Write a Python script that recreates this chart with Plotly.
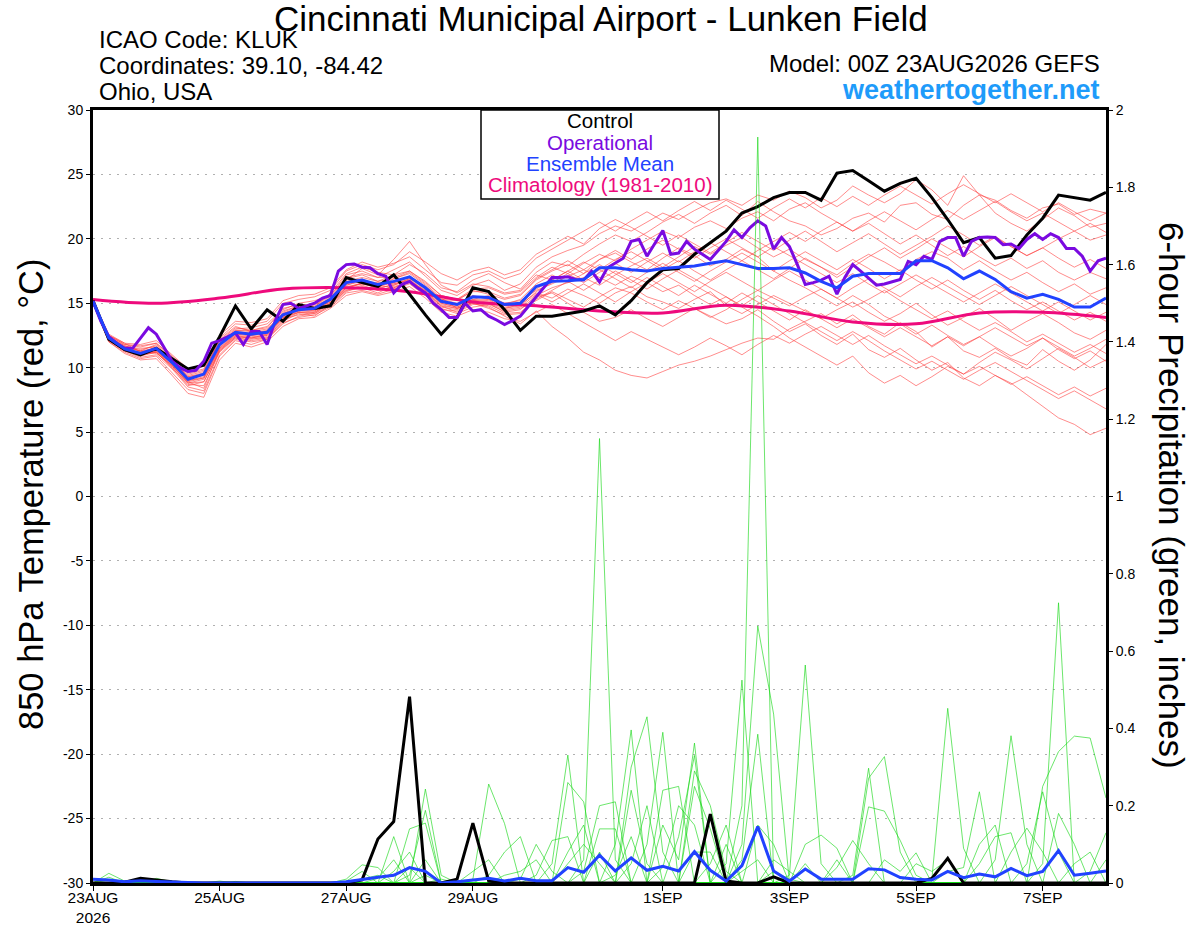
import pandas as pd
import plotly.graph_objects as go

# ---- time axes ----
start = "2026-08-23 00:00"
times_6h = pd.date_range(start, periods=65, freq="6h")      # ensemble / control steps
times_3h = pd.date_range(start, periods=129, freq="3h")     # operational run steps
times_clim = pd.date_range(start, periods=17, freq="24h")   # climatology, daily

tick_dates = ["2026-08-23", "2026-08-25", "2026-08-27", "2026-08-29",
              "2026-09-01", "2026-09-03", "2026-09-05", "2026-09-07"]
tick_labels = ["23AUG<br>2026", "25AUG", "27AUG", "29AUG",
               "1SEP", "3SEP", "5SEP", "7SEP"]
temp_ticks = [-30, -25, -20, -15, -10, -5, 0, 5, 10, 15, 20, 25, 30]
temp_tick_labels = ["-30", "-25", "-20", "-15", "-10", "-5", "0", "5", "10", "15", "20", "25", "30"]
precip_ticks = [0, 0.2, 0.4, 0.6, 0.8, 1, 1.2, 1.4, 1.6, 1.8, 2]
precip_tick_labels = ["0", "0.2", "0.4", "0.6", "0.8", "1", "1.2", "1.4", "1.6", "1.8", "2"]

# ---- 850 hPa temperature (C) ----
control_t = [15.2, 12.2, 11.4, 11.0, 11.5, 10.7, 9.9, 10.2, 12.4, 14.8, 13.0, 14.5,
             13.6, 14.9, 14.6, 14.8, 17.0, 16.6, 16.3, 17.2, 15.7, 14.1, 12.6, 13.9, 16.2, 15.9, 14.5,
             12.9, 14.0, 14.0, 14.2, 14.4, 14.8, 14.1, 15.2, 16.6, 17.6, 17.7, 18.8, 19.7, 20.6, 22.0,
             22.5, 23.2, 23.6, 23.6, 23.0,
             25.1, 25.3, 24.5, 23.7, 24.3, 24.7, 23.2, 21.5, 19.7, 20.1, 18.5, 18.7, 20.3, 21.6, 23.4,
             23.2, 23.0, 23.6]

mean_t = [15.15, 12.3, 11.45, 11.1, 11.5, 10.4, 9.1, 9.5, 11.8, 12.75, 12.6, 12.75,
          14.1, 14.5, 14.6, 15.3, 16.6, 16.8, 16.45, 16.7, 17.05, 16.2, 15.15, 14.9, 15.5, 15.45, 14.9,
          15.0, 16.3, 16.7, 16.75, 16.85, 17.75, 17.75, 17.6, 17.5, 17.7, 17.8, 17.9, 18.1, 18.3, 18.0,
          17.7, 17.7, 17.75, 17.35, 16.7,
          16.2, 17.1, 17.3, 17.3, 17.3, 18.3, 18.3, 17.75, 16.9, 17.5, 16.85, 15.9, 15.4, 15.7, 15.3,
          14.7, 14.7, 15.4]

oper_t = [15.15, 13.6, 12.4, 11.9, 11.5, 11.5, 12.3, 13.1, 12.6, 11.5, 10.5, 10.0, 9.7, 9.8, 10.5, 11.9,
          12.1, 12.4, 12.7, 11.8, 12.8, 12.8, 11.8, 13.6, 14.9, 15.0, 14.6, 14.8, 15.0, 15.4, 15.6, 17.5,
          18.0, 18.05, 17.8, 17.75, 17.3, 17.1, 15.8, 16.45, 16.7, 16.2, 15.8, 15.0, 14.5, 13.9, 13.9, 15.0,
          14.4, 14.5, 14.0, 13.7, 13.35, 13.65, 14.0, 14.75, 15.5, 16.25, 17.0, 17.0, 17.05, 16.85, 16.8, 17.5,
          16.65, 17.75, 18.1, 18.5, 19.8, 19.95, 18.65, 19.6, 20.65, 18.8, 18.9, 19.8, 19.2, 18.8, 18.4, 19.1,
          19.8, 20.7, 20.1, 20.85, 21.4, 21.0, 19.2, 20.1, 19.4, 18.0, 16.45, 16.6, 16.8, 17.1, 15.7, 17.0,
          18.0, 17.5, 16.95, 16.4, 16.5, 16.65, 16.85, 18.25, 18.0, 18.65, 18.4, 19.8, 20.1, 20.1, 18.65, 19.8,
          20.1, 20.15, 20.1, 19.55, 19.6, 19.25, 19.95, 20.4, 19.95, 20.4, 20.1, 19.25, 19.25, 18.65, 17.5, 18.3,
          18.5]

clim_t = [15.3, 15.0, 15.4, 16.1, 16.2, 15.9, 15.1, 14.8, 14.4, 14.25, 14.85, 14.4,
          13.55, 13.4, 14.25, 14.3, 13.9]

ens_t01 = [15.1, 12.5, 11.8, 11.6, 11.9, 10.8, 9.6, 9.9, 12.0, 13.0, 13.1, 13.4,
           14.5, 15.0, 15.2, 15.6, 17.2, 17.5, 17.0, 17.6, 18.2, 17.1, 16.0, 15.6, 16.4, 16.8, 16.0,
           16.5, 17.8, 18.6, 19.1, 19.5, 20.4, 21.0, 20.6, 21.3, 22.0, 21.5, 22.2, 22.8, 23.1, 22.6, 23.4, 23.0, 23.7, 23.2, 22.4,
           23.0, 24.1, 23.4, 22.8, 23.5, 24.6, 23.8, 22.6, 24.9, 23.4, 22.0, 21.2, 20.6, 21.5, 22.4, 21.8, 20.9, 21.2]
ens_t02 = [15.0, 12.0, 11.2, 10.7, 10.9, 9.6, 8.3, 8.0, 10.9, 12.1, 11.8, 12.2,
           13.4, 14.0, 14.2, 14.8, 15.9, 16.3, 16.0, 16.3, 16.6, 15.6, 14.5, 14.4, 15.0, 14.6, 14.1,
           14.2, 15.5, 15.8, 15.0, 14.3, 13.6, 13.9, 14.5, 13.8, 13.2, 13.9, 14.6, 14.0, 13.4, 13.8, 14.5, 13.6, 12.8, 13.4, 12.5,
           11.8, 12.6, 11.4, 10.8, 11.5, 10.6, 9.8, 10.4, 9.2, 8.6, 9.4, 8.8, 7.9, 7.0, 6.1, 5.6, 4.8, 5.3]
ens_t03 = [15.1, 12.2, 11.6, 11.3, 11.1, 10.2, 8.9, 8.4, 11.4, 12.4, 12.3, 12.3,
           13.7, 14.3, 14.2, 15.0, 16.1, 16.6, 16.2, 16.9, 17.4, 16.5, 15.4, 14.6, 15.0, 14.7, 14.0,
           13.4, 14.4, 13.2, 12.3, 11.2, 10.6, 9.8, 9.4, 9.2, 9.7, 10.2, 10.5, 10.9, 11.4, 11.9, 12.3, 12.2, 13.0, 13.6, 14.2,
           13.4, 14.1, 13.2, 12.6, 13.5, 12.8, 11.6, 12.4, 11.3, 10.8, 11.5, 10.7, 10.2, 11.4, 10.5, 9.8, 10.6, 11.8]
ens_t04 = [15.1, 12.4, 11.7, 11.4, 11.7, 10.6, 9.3, 9.6, 11.9, 12.9, 12.9, 13.1,
           14.6, 14.9, 14.7, 15.8, 17.3, 17.8, 17.4, 17.2, 18.0, 17.3, 16.2, 15.9, 16.8, 17.3, 16.6,
           16.1, 17.4, 18.2, 17.9, 18.8, 19.6, 20.3, 19.8, 20.5, 21.3, 21.9, 21.2, 22.0, 22.6, 21.8, 22.9, 22.1, 21.4, 21.0, 20.3,
           20.8, 21.6, 22.0, 21.3, 22.6, 22.8, 21.9, 21.5, 22.6, 23.4, 23.0, 22.2, 21.6, 22.4, 22.7, 21.9, 22.3, 22.0]
ens_t05 = [15.0, 12.3, 11.5, 11.0, 11.3, 10.1, 8.9, 9.2, 11.5, 12.5, 12.3, 12.6,
           13.9, 14.4, 14.5, 15.1, 16.3, 16.5, 16.4, 16.2, 16.7, 16.0, 15.0, 14.7, 15.2, 15.1, 14.6,
           14.9, 15.8, 15.4, 16.1, 15.6, 15.0, 15.8, 16.3, 15.5, 15.1, 14.6, 15.3, 15.9, 14.8, 14.2, 14.9, 15.6, 15.0, 14.4, 13.8,
           14.5, 15.1, 14.3, 13.6, 14.2, 15.0, 14.1, 13.3, 13.9, 14.6, 13.8, 12.9, 13.6, 14.2, 13.5, 12.7, 12.2, 12.9]
ens_t06 = [15.2, 12.6, 11.9, 11.2, 11.6, 10.5, 9.4, 9.7, 12.2, 13.2, 12.8, 13.0,
           14.2, 14.6, 14.9, 15.5, 16.9, 17.2, 16.7, 16.9, 17.3, 16.4, 15.3, 15.2, 16.0, 15.7, 15.3,
           15.6, 16.8, 17.5, 18.0, 17.3, 18.4, 18.9, 18.2, 17.6, 18.5, 19.3, 18.7, 17.9, 18.4, 19.2, 18.6, 17.5, 16.8, 16.2, 15.5,
           14.8, 15.6, 14.9, 14.0, 13.4, 12.6, 13.3, 12.5, 11.8, 12.4, 11.6, 10.9, 11.5, 12.3, 11.4, 10.7, 11.3, 10.5]
ens_t07 = [15.1, 12.1, 11.3, 11.0, 11.2, 10.0, 8.6, 8.9, 11.3, 12.3, 12.2, 12.4,
           13.8, 14.1, 14.3, 15.0, 16.0, 16.2, 15.8, 16.4, 16.9, 15.9, 14.8, 14.3, 14.9, 15.0, 14.3,
           14.5, 15.6, 16.2, 16.6, 17.0, 16.4, 17.2, 17.9, 18.5, 17.8, 18.6, 19.4, 18.8, 19.5, 20.1, 19.3, 18.6, 19.2, 18.4, 17.8,
           17.2, 18.1, 18.8, 18.2, 17.5, 18.4, 19.0, 18.5, 17.6, 18.3, 17.5, 16.8, 17.4, 16.6, 15.9, 16.5, 15.7, 16.2]
ens_t08 = [15.0, 12.3, 11.4, 11.1, 11.4, 10.3, 9.0, 9.3, 11.6, 12.6, 12.5, 12.7,
           14.0, 14.6, 14.4, 15.3, 16.5, 16.9, 16.3, 16.6, 17.1, 16.1, 15.1, 14.8, 15.3, 15.6, 15.0,
           15.2, 16.0, 16.5, 17.1, 17.6, 17.0, 16.4, 17.1, 16.6, 15.9, 16.4, 15.6, 14.9, 15.5, 14.7, 14.0, 13.2, 12.3, 11.6, 10.9,
           10.2, 10.9, 9.6, 8.8, 9.4, 8.6, 9.3, 10.1, 9.5, 10.4, 11.2, 10.6, 9.9, 10.7, 11.5, 10.8, 10.0, 10.6]
ens_t09 = [15.1, 12.4, 11.6, 11.5, 11.6, 10.6, 9.5, 9.8, 12.1, 13.1, 12.9, 13.2,
           14.4, 14.8, 15.0, 15.6, 17.0, 17.3, 17.0, 17.0, 17.5, 16.6, 15.6, 15.3, 16.1, 16.2, 15.7,
           15.9, 17.0, 17.8, 17.3, 18.1, 18.8, 18.3, 19.2, 19.9, 20.6, 20.1, 20.9, 21.4, 20.8, 21.6, 22.1, 21.4, 22.3, 22.8, 22.0,
           21.3, 20.6, 21.2, 20.4, 19.6, 20.3, 19.5, 18.7, 19.4, 18.6, 17.9, 18.5, 17.7, 18.3, 17.4, 16.8, 17.4, 16.9]
ens_t10 = [15.0, 12.2, 11.3, 10.8, 11.0, 9.9, 8.5, 8.2, 11.0, 12.2, 12.0, 12.2,
           13.5, 13.9, 14.1, 14.7, 15.8, 16.0, 15.7, 16.1, 16.5, 15.6, 14.6, 14.2, 14.7, 14.9, 14.4,
           14.6, 15.2, 15.9, 15.3, 14.7, 15.5, 16.2, 15.8, 15.1, 14.5, 15.2, 14.6, 13.9, 14.5, 15.3, 16.0, 15.4, 14.8, 15.5, 16.1,
           15.4, 14.7, 15.3, 16.0, 15.2, 14.5, 13.8, 14.4, 13.6, 12.9, 13.5, 12.8, 12.0, 12.6, 11.9, 11.2, 11.8, 11.1]
ens_t11 = [15.1, 12.5, 11.8, 11.7, 11.9, 10.9, 9.8, 10.1, 12.3, 13.4, 13.3, 13.6,
           15.0, 15.3, 15.5, 16.0, 17.5, 18.0, 17.6, 18.0, 19.0, 18.2, 17.3, 16.8, 17.5, 17.8, 17.2,
           17.6, 18.8, 19.5, 20.2, 19.6, 20.8, 21.5, 20.9, 20.2, 19.5, 20.3, 19.6, 18.9, 19.7, 20.5, 19.8, 19.1, 19.9, 20.6, 19.8,
           19.0, 19.7, 20.4, 19.6, 18.8, 19.5, 20.2, 21.0, 20.3, 19.5, 20.2, 19.4, 18.7, 19.3, 18.5, 17.8, 18.4, 17.7]
ens_t12 = [15.1, 12.4, 11.7, 11.3, 11.8, 10.7, 9.2, 9.5, 11.8, 12.8, 12.7, 12.9,
           14.3, 14.8, 14.6, 15.4, 16.8, 17.7, 17.2, 18.4, 19.8, 18.0, 16.4, 15.8, 16.5, 16.3, 15.8,
           16.0, 17.2, 16.8, 17.5, 18.2, 17.6, 18.4, 19.0, 18.3, 17.6, 18.3, 17.5, 16.8, 17.6, 18.3, 17.6, 16.9, 17.7, 18.5, 17.8,
           17.0, 17.8, 18.6, 19.3, 18.5, 19.2, 20.0, 19.3, 18.6, 19.4, 20.1, 19.4, 18.7, 19.3, 20.0, 20.6, 19.9, 20.3]
ens_t13 = [15.0, 12.0, 11.1, 10.6, 10.7, 9.4, 8.0, 7.7, 10.6, 11.9, 11.6, 12.0,
           13.2, 13.8, 13.9, 14.6, 15.6, 15.9, 15.6, 15.9, 16.3, 15.4, 14.3, 14.0, 14.5, 14.3, 13.8,
           13.6, 14.3, 14.9, 14.2, 13.5, 12.8, 12.1, 12.8, 12.2, 11.6, 11.0, 11.6, 12.3, 11.7, 11.0, 11.8, 12.5, 11.9, 12.6, 13.2,
           12.5, 11.8, 12.5, 11.7, 11.0, 10.3, 10.9, 10.2, 9.5, 10.1, 9.4, 8.7, 9.3, 8.6, 7.9, 8.5, 7.8, 8.4]
ens_t14 = [15.2, 12.3, 11.5, 11.2, 11.5, 10.4, 9.1, 9.4, 11.7, 12.7, 12.6, 12.7,
           14.1, 14.4, 14.7, 15.2, 16.4, 16.7, 16.6, 16.5, 16.9, 16.3, 15.3, 15.0, 15.6, 15.3, 14.9,
           15.3, 16.5, 17.2, 16.6, 17.3, 18.0, 17.3, 16.6, 17.4, 18.1, 17.4, 16.7, 17.5, 18.2, 18.9, 18.2, 17.5, 18.3, 19.0, 18.3,
           17.6, 18.4, 17.7, 16.9, 17.6, 16.8, 16.1, 16.8, 16.0, 15.3, 16.0, 15.2, 14.5, 15.1, 14.4, 13.7, 14.3, 13.6]
ens_t15 = [15.1, 12.2, 11.4, 11.0, 11.3, 10.2, 8.8, 9.1, 11.4, 12.5, 12.4, 12.5,
           13.9, 14.3, 14.3, 15.0, 16.2, 16.6, 16.1, 16.5, 16.8, 15.9, 14.9, 14.6, 15.2, 15.3, 14.6,
           14.8, 15.9, 16.6, 17.3, 16.6, 17.4, 18.1, 17.4, 18.2, 18.9, 18.2, 19.0, 19.7, 19.0, 18.3, 19.1, 19.8, 20.5, 19.8, 20.6,
           21.3, 20.6, 21.4, 22.1, 21.4, 20.7, 21.5, 22.2, 21.5, 22.2, 22.9, 22.1, 21.4, 22.0, 21.3, 20.6, 21.2, 20.5]
ens_t16 = [15.0, 12.1, 11.3, 10.9, 11.2, 10.0, 8.7, 8.6, 11.2, 12.3, 12.1, 12.3,
           13.6, 14.2, 14.0, 14.9, 16.0, 16.4, 16.0, 16.2, 16.6, 15.7, 14.7, 14.5, 15.1, 14.8, 14.2,
           14.3, 15.3, 16.0, 16.7, 16.0, 16.8, 17.5, 16.8, 16.1, 16.9, 17.6, 16.9, 16.2, 15.5, 14.8, 15.6, 14.9, 14.2, 13.5, 12.8,
           12.1, 12.8, 12.1, 11.3, 10.6, 9.9, 10.5, 9.8, 9.1, 9.8, 10.4, 9.7, 9.0, 8.3, 7.6, 8.2, 7.5, 6.8]
ens_t17 = [15.1, 12.3, 11.6, 11.3, 11.5, 10.5, 9.3, 9.5, 11.8, 12.9, 12.8, 12.8,
           14.2, 14.7, 14.8, 15.4, 16.7, 17.0, 16.7, 17.2, 17.5, 16.7, 15.6, 15.3, 15.9, 15.9, 15.4,
           15.7, 16.9, 17.6, 18.3, 17.6, 18.4, 19.1, 18.4, 19.2, 19.9, 19.2, 18.5, 19.3, 20.0, 19.3, 18.6, 19.4, 18.7, 18.0, 17.3,
           16.6, 17.3, 16.5, 15.8, 16.5, 17.2, 16.5, 15.8, 15.1, 15.8, 16.5, 15.8, 15.1, 14.4, 15.1, 14.4, 13.7, 14.3]
ens_t18 = [15.0, 12.2, 11.4, 11.0, 11.2, 10.1, 8.8, 8.9, 11.3, 12.4, 12.3, 12.5,
           13.9, 14.3, 14.4, 15.1, 16.2, 16.5, 16.2, 16.4, 16.8, 15.8, 14.8, 14.6, 15.1, 15.0, 14.5,
           14.7, 15.7, 15.1, 15.8, 16.5, 15.8, 15.1, 15.9, 16.6, 17.3, 16.6, 15.9, 16.7, 17.4, 16.7, 16.0, 16.8, 17.5, 16.8, 16.1,
           15.4, 16.2, 16.9, 16.2, 15.5, 16.3, 17.0, 16.3, 15.6, 14.9, 15.6, 16.3, 15.6, 14.9, 14.2, 14.9, 15.6, 14.9]
ens_t19 = [15.1, 12.5, 11.9, 11.8, 12.1, 11.0, 9.9, 10.3, 12.5, 13.6, 13.5, 13.8,
           15.2, 15.6, 15.7, 16.2, 17.6, 18.2, 17.8, 18.1, 18.6, 17.6, 16.6, 16.4, 17.2, 17.5, 16.9,
           17.3, 18.5, 19.2, 19.9, 20.6, 21.3, 20.6, 21.4, 22.1, 21.4, 22.2, 22.9, 22.2, 23.0, 22.3, 21.6, 22.4, 23.1, 22.4, 23.2,
           22.5, 23.3, 22.6, 23.4, 24.1, 23.4, 22.7, 23.5, 24.2, 23.5, 22.8, 23.5, 22.8, 22.1, 22.8, 22.1, 21.4, 22.0]
ens_t20 = [15.1, 12.3, 11.5, 11.1, 11.3, 10.3, 9.0, 9.2, 11.5, 12.6, 12.5, 12.6,
           14.0, 14.5, 14.5, 15.2, 16.4, 16.8, 16.4, 16.6, 17.0, 16.0, 15.0, 14.7, 15.3, 15.2, 14.7,
           14.9, 16.1, 16.8, 17.5, 16.8, 17.6, 16.9, 16.2, 17.0, 16.3, 15.6, 16.4, 15.7, 15.0, 15.8, 15.1, 14.4, 13.7, 14.5, 13.8,
           13.1, 13.8, 13.1, 12.4, 13.1, 12.4, 11.7, 12.4, 11.7, 12.4, 13.1, 12.4, 11.7, 12.3, 11.6, 10.9, 11.5, 12.2]

# ---- 6-hour precipitation (inches) ----
control_p = [0, 0, 0.002, 0.012, 0.008, 0.003, 0, 0, 0, 0, 0, 0, 0,
             0, 0, 0, 0, 0.008, 0.114, 0.159, 0.482, 0, 0, 0.01, 0.155, 0.005,
             0, 0, 0, 0, 0, 0, 0, 0, 0, 0, 0, 0, 0,
             0.178, 0.005, 0, 0, 0.016, 0, 0, 0, 0, 0, 0, 0, 0,
             0, 0.012, 0.064, 0, 0, 0, 0, 0, 0, 0, 0, 0, 0]
mean_p = [0.01, 0.008, 0.003, 0.006, 0.004, 0.002, 0.001, 0, 0, 0, 0, 0, 0,
          0, 0, 0, 0.003, 0.01, 0.015, 0.02, 0.04, 0.03, 0, 0.003, 0.007, 0.012,
          0.005, 0.012, 0.006, 0.006, 0.04, 0.028, 0.072, 0.031, 0.065, 0.033, 0.043, 0.031, 0.081,
          0.033, 0.005, 0.045, 0.146, 0.031, 0.005, 0.036, 0.01, 0.01, 0.01, 0.037, 0.034, 0.014,
          0.01, 0.008, 0.03, 0.014, 0.023, 0.016, 0.038, 0.019, 0.03, 0.084, 0.02, 0.025, 0.031]

ens_p01 = [0, .025, .005, 0, 0, 0, 0, 0, 0, 0, 0, 0, 0,
           0, 0, 0, 0, 0, 0, 0, 0, 0, 0, 0, 0, 0,
           0, .01, .1, .03, 0, 0, 0, .02, .12, 0, 0, 0, 0,
           0, .1, 0, 0, 0, 0, 0, 0, 0, 0, 0, 0, 0,
           0, 0, 0, 0, .1, .15, 0, 0, 0, 0, 0, 0, 0]
ens_p02 = [0, .015, 0, .004, 0, 0, 0, 0, 0, 0, 0, 0, 0,
           0, 0, 0, 0, 0, 0, 0, 0, 0, 0, 0, 0, 0,
           0, 0, 0, .05, .331, 0, .08, 0, 0, 0, 0, 0, 0,
           0, .05, .525, 0, 0, 0, 0, 0, 0, 0, 0, 0, 0,
           0, 0, 0, 0, .05, .12, .13, 0, 0, 0, 0, 0, 0]
ens_p03 = [0, .008, 0, 0, 0, 0, 0, 0, 0, 0, 0, 0, 0,
           0, 0, 0, 0, 0, 0, 0, 0, 0, 0, 0, 0, 0,
           0, 0, 0, 0, .26, .21, 0, 0, 0, 0, 0, 0, 0,
           0, 0, .2, 1.93, 0, 0, 0, 0, 0, 0, 0, 0, 0,
           0, 0, 0, 0, 0, .06, .381, .1, 0, 0, 0, 0, 0]
ens_p04 = [0, 0, .006, 0, 0, 0, 0, 0, 0, 0, 0, 0, 0,
           0, 0, 0, 0, 0, 0, 0, 0, 0, 0, 0, 0, 0,
           0, 0, 0, 0, .08, .15, 0, 0, 0, 0, 0, 0, 0,
           0, 0, .1, .665, .437, 0, 0, 0, 0, 0, 0, 0, 0,
           0, 0, 0, 0, 0, 0, .08, .142, .08, 0, 0, 0, 0]
ens_p05 = [0, 0, 0, 0, .012, .003, 0, 0, 0, 0, 0, 0, 0,
           0, 0, 0, 0, 0, 0, 0, 0, 0, 0, 0, 0, 0,
           0, 0, 0, 0, 0, .06, 1.15, .06, 0, 0, 0, 0, 0,
           0, 0, 0, 0, .03, .01, 0, 0, 0, 0, 0, 0, 0,
           0, 0, 0, 0, 0, 0, 0, .05, .236, .08, 0, 0, 0]
ens_p06 = [0, 0, 0, 0, .006, 0, 0, 0, 0, 0, 0, 0, 0,
           0, 0, 0, 0, 0, 0, 0, 0, 0, 0, 0, 0, 0,
           0, 0, 0, 0, 0, .03, .2, .21, 0, 0, 0, 0, 0,
           0, 0, .06, .385, 0, 0, 0, 0, 0, 0, 0, 0, 0,
           0, 0, 0, 0, 0, 0, 0, 0, .25, .34, .38, .375, .22]
ens_p07 = [0, 0, 0, 0, 0, 0, 0, 0, .005, 0, 0, 0, 0,
           0, 0, 0, 0, 0, 0, 0, 0, 0, 0, 0, 0, 0,
           0, 0, 0, 0, 0, 0, .14, .14, 0, 0, 0, 0, 0,
           0, 0, .03, .06, 0, 0, 0, 0, 0, 0, 0, 0, 0,
           0, 0, 0, 0, 0, 0, 0, 0, .05, .725, 0, 0, 0]
ens_p08 = [0, 0, 0, 0, 0, 0, 0, 0, 0, .004, 0, 0, 0,
           0, 0, 0, 0, 0, 0, 0, 0, 0, 0, 0, 0, 0,
           0, 0, 0, 0, 0, 0, 0, .1, .396, 0, 0, 0, 0,
           0, 0, 0, .15, .1, 0, 0, 0, 0, 0, 0, 0, 0,
           0, 0, 0, 0, 0, 0, 0, 0, 0, .18, .1, 0, 0]
ens_p09 = [0, 0, 0, 0, 0, 0, 0, 0, 0, 0, 0, 0, 0,
           0, 0, 0, .01, .047, .04, 0, .04, 0, 0, 0, 0, 0,
           0, 0, 0, 0, 0, 0, 0, 0, .3, .43, .08, 0, 0,
           0, 0, 0, 0, .06, .03, 0, 0, 0, 0, 0, 0, 0,
           0, 0, 0, 0, 0, 0, 0, 0, 0, 0, .05, .08, 0]
ens_p10 = [0, 0, 0, 0, 0, 0, 0, 0, 0, 0, 0, 0, 0,
           0, 0, 0, .005, .03, 0, .12, 0, .06, 0, 0, 0, 0,
           0, 0, 0, 0, 0, 0, 0, 0, .24, .05, 0, 0, 0,
           0, 0, 0, 0, 0, .02, .564, .05, 0, 0, 0, 0, 0,
           0, 0, 0, 0, 0, 0, 0, 0, 0, 0, 0, .03, .13]
ens_p11 = [0, 0, 0, 0, 0, 0, 0, 0, 0, 0, 0, 0, 0,
           0, 0, 0, 0, .01, .02, 0, .14, .155, 0, 0, 0, 0,
           0, 0, 0, 0, 0, 0, 0, 0, .05, .2, 0, 0, 0,
           0, 0, 0, 0, 0, 0, .1, .124, .09, 0, 0, 0, 0,
           0, 0, 0, 0, 0, 0, 0, 0, 0, 0, 0, 0, .06]
ens_p12 = [0, 0, 0, 0, 0, 0, 0, 0, 0, 0, 0, 0, 0,
           0, 0, 0, 0, 0, .012, .06, 0, .243, .02, 0, 0, 0,
           0, 0, 0, 0, 0, 0, 0, 0, 0, .1, .39, 0, 0,
           0, 0, 0, 0, 0, 0, .05, 0, .06, 0, 0, 0, 0,
           0, 0, 0, 0, 0, 0, 0, 0, 0, 0, 0, 0, 0]
ens_p13 = [0, 0, 0, 0, 0, 0, 0, 0, 0, 0, 0, 0, 0,
           0, 0, 0, 0, 0, 0, .03, .08, 0, .01, 0, 0, 0,
           0, 0, 0, 0, 0, 0, 0, 0, 0, 0, .24, .25, 0,
           0, 0, 0, 0, 0, 0, 0, 0, .04, .11, .05, 0, 0,
           0, 0, 0, 0, 0, 0, 0, 0, 0, 0, 0, 0, 0]
ens_p14 = [0, 0, 0, 0, 0, 0, 0, 0, 0, 0, 0, 0, 0,
           0, 0, 0, 0, 0, 0, 0, .02, .188, 0, .005, 0, 0,
           0, 0, 0, 0, 0, 0, 0, 0, 0, 0, .15, .06, .362,
           0, 0, 0, 0, 0, 0, 0, 0, 0, .02, .297, 0, 0,
           0, 0, 0, 0, 0, 0, 0, 0, 0, 0, 0, 0, 0]
ens_p15 = [0, 0, 0, 0, 0, 0, 0, 0, 0, 0, 0, 0, 0,
           0, 0, 0, 0, 0, 0, 0, 0, .02, 0, 0, .03, .06,
           0, 0, 0, 0, 0, 0, 0, 0, 0, 0, .04, .2, .15,
           0, 0, 0, 0, 0, 0, 0, 0, 0, 0, .271, .327, .08,
           0, 0, 0, 0, 0, 0, 0, 0, 0, 0, 0, 0, 0]
ens_p16 = [0, 0, 0, 0, 0, 0, 0, 0, 0, 0, 0, 0, 0,
           0, 0, 0, 0, 0, 0, 0, 0, 0, 0, 0, .01, .256,
           .154, 0, 0, 0, 0, 0, 0, 0, 0, 0, 0, .12, .33,
           0, 0, 0, 0, 0, 0, 0, 0, 0, 0, .197, .186, .11,
           .02, 0, 0, 0, 0, 0, 0, 0, 0, 0, 0, 0, 0]
ens_p17 = [0, 0, 0, 0, 0, 0, 0, 0, 0, 0, 0, 0, 0,
           0, 0, 0, 0, 0, 0, 0, 0, 0, 0, 0, 0, .02,
           .08, .12, 0, 0, 0, 0, 0, 0, 0, 0, 0, 0, .29,
           .2, .03, 0, 0, 0, 0, 0, 0, 0, 0, 0, .06, .03,
           .078, 0, 0, 0, 0, 0, 0, 0, 0, 0, 0, 0, 0]
ens_p18 = [0, 0, 0, 0, 0, 0, 0, 0, 0, 0, 0, 0, 0,
           0, 0, 0, 0, 0, 0, 0, 0, 0, 0, 0, 0, 0,
           .02, .03, .06, 0, 0, 0, 0, 0, 0, 0, 0, 0, .25,
           .14, 0, 0, 0, 0, 0, 0, 0, 0, 0, 0, 0, 0,
           .05, .03, .06, 0, 0, 0, 0, 0, 0, 0, 0, 0, 0]
ens_p19 = [0, 0, 0, 0, 0, 0, 0, 0, 0, 0, 0, 0, 0,
           0, 0, 0, 0, 0, 0, 0, 0, 0, 0, 0, 0, 0,
           0, 0, .02, .11, .12, 0, 0, 0, 0, 0, 0, 0, .08,
           .08, 0, 0, 0, 0, 0, 0, 0, 0, 0, 0, 0, 0,
           0, .01, .452, .09, 0, 0, 0, 0, 0, 0, 0, 0, 0]
ens_p20 = [0, 0, 0, 0, 0, 0, 0, 0, 0, 0, 0, 0, 0,
           0, 0, 0, 0, 0, 0, 0, 0, 0, 0, 0, 0, 0,
           0, 0, 0, 0, .05, .1, .05, 0, 0, 0, 0, 0, 0,
           .05, .15, 0, 0, 0, 0, 0, 0, 0, 0, 0, 0, 0,
           0, 0, .03, .04, .236, 0, 0, 0, 0, 0, 0, 0, 0]

temp_members = [ens_t01, ens_t02, ens_t03, ens_t04, ens_t05, ens_t06, ens_t07, ens_t08, ens_t09, ens_t10,
                ens_t11, ens_t12, ens_t13, ens_t14, ens_t15, ens_t16, ens_t17, ens_t18, ens_t19, ens_t20]
precip_members = [ens_p01, ens_p02, ens_p03, ens_p04, ens_p05, ens_p06, ens_p07, ens_p08, ens_p09, ens_p10,
                  ens_p11, ens_p12, ens_p13, ens_p14, ens_p15, ens_p16, ens_p17, ens_p18, ens_p19, ens_p20]

for n, s in enumerate(temp_members + precip_members + [control_t, mean_t, control_p, mean_p]):
    assert len(s) == 65, (n, len(s))
assert len(oper_t) == 129, len(oper_t)

# plot area wanted at page x 93..1106, y 110..883
def px_x(px):
    return (px - 93) / 1013.0


def px_y(py):
    return (883 - py) / 773.0


FONT = "Liberation Sans, Arial, Helvetica, sans-serif"
fig = go.Figure()

for m in temp_members:  # red spaghetti
    fig.add_trace(go.Scatter(x=times_6h, y=m, mode="lines", hoverinfo="skip",
                             line=dict(color="rgba(255,60,60,0.85)", width=0.7)))
for m in precip_members:  # green spaghetti
    fig.add_trace(go.Scatter(x=times_6h, y=m, yaxis="y2", mode="lines", hoverinfo="skip",
                             line=dict(color="rgba(20,215,20,0.9)", width=0.7)))

fig.add_trace(go.Scatter(x=times_clim, y=clim_t, mode="lines", line_shape="spline",
                         line=dict(color="#EE0A7C", width=3)))
fig.add_trace(go.Scatter(x=times_6h, y=control_t, mode="lines", line=dict(color="black", width=3)))
fig.add_trace(go.Scatter(x=times_3h, y=oper_t, mode="lines", line=dict(color="#7A0AE0", width=3)))
fig.add_trace(go.Scatter(x=times_6h, y=mean_t, mode="lines", line=dict(color="#2142FF", width=3)))
fig.add_trace(go.Scatter(x=times_6h, y=control_p, yaxis="y2", mode="lines",
                         line=dict(color="black", width=3)))
fig.add_trace(go.Scatter(x=times_6h, y=mean_p, yaxis="y2", mode="lines",
                         line=dict(color="#2142FF", width=3)))

fig.update_layout(
    width=1200, height=927,
    margin=dict(l=93, r=94, t=110, b=44, autoexpand=False),
    plot_bgcolor="white", paper_bgcolor="white",
    showlegend=False,
    font=dict(family=FONT, color="black"),
    xaxis=dict(type="date", range=["2026-08-23 00:00", "2026-09-08 00:00"],
               tickvals=tick_dates, ticktext=tick_labels, automargin=False,
               ticks="outside", ticklen=5, tickwidth=1, tickcolor="black",
               ticklabelstandoff=-7,
               tickfont=dict(size=15.5), showgrid=False,
               showline=True, linewidth=3, linecolor="black", mirror=True),
    yaxis=dict(range=[-30, 30], tickvals=temp_ticks, ticktext=temp_tick_labels, automargin=False,
               ticks="outside", ticklen=4, tickwidth=1, tickcolor="black",
               tickfont=dict(size=14), showgrid=True, gridcolor="#B0B0B0", griddash="2px,6px",
               gridwidth=1, zeroline=False, showline=True, linewidth=3, linecolor="black"),
    yaxis2=dict(range=[0, 2], overlaying="y", side="right", automargin=False,
                tickvals=precip_ticks, ticktext=precip_tick_labels,
                ticks="outside", ticklen=4, tickwidth=1, tickcolor="black",
                tickfont=dict(size=14), showgrid=False, zeroline=False,
                showline=True, linewidth=3, linecolor="black"),
)

# legend box
fig.add_shape(type="rect", xref="paper", yref="paper",
              x0=px_x(481), x1=px_x(719), y0=px_y(199), y1=px_y(110),
              line=dict(color="black", width=1.5), fillcolor="white", layer="above")
legend_items = [("Control", "black", 121), ("Operational", "#7A0AE0", 142),
                ("Ensemble Mean", "#2142FF", 163), ("Climatology (1981-2010)", "#EE0A7C", 185)]
for text, color, py in legend_items:
    fig.add_annotation(text=text, xref="paper", yref="paper", x=px_x(600), y=px_y(py),
                       xanchor="center", yanchor="middle", showarrow=False,
                       font=dict(size=20.5, color=color))

# titles and header text
fig.add_annotation(text="Cincinnati Municipal Airport - Lunken Field", xref="paper", yref="paper",
                   x=px_x(601), y=px_y(19), xanchor="center", yanchor="middle",
                   showarrow=False, font=dict(size=35))
for text, py in [("ICAO Code: KLUK", 40), ("Coordinates: 39.10, -84.42", 66), ("Ohio, USA", 92)]:
    fig.add_annotation(text=text, xref="paper", yref="paper", x=px_x(97), y=px_y(py),
                       xanchor="left", yanchor="middle", showarrow=False, font=dict(size=24))
fig.add_annotation(text="Model: 00Z 23AUG2026 GEFS", xref="paper", yref="paper",
                   x=px_x(1102), y=px_y(63), xanchor="right", yanchor="middle",
                   showarrow=False, font=dict(size=24))
fig.add_annotation(text="<b>weathertogether.net</b>", xref="paper", yref="paper",
                   x=px_x(1102), y=px_y(90), xanchor="right", yanchor="middle", showarrow=False,
                   font=dict(size=27, color="#1E9BFA"))

# axis titles
fig.add_annotation(text="850 hPa Temperature (red, °C)", xref="paper", yref="paper",
                   x=px_x(31), y=px_y(495), xanchor="center", yanchor="middle",
                   textangle=-90, showarrow=False, font=dict(size=34.5))
fig.add_annotation(text="6-hour Precipitation (green, inches)", xref="paper", yref="paper",
                   x=px_x(1172), y=px_y(495), xanchor="center", yanchor="middle",
                   textangle=90, showarrow=False, font=dict(size=35))

# drop the browser's default body margin so the figure sits at the page corner
fig.write_html("out.html", config={"displayModeBar": False},
               post_script="document.body.style.margin='0px';document.body.style.overflow='hidden';")
